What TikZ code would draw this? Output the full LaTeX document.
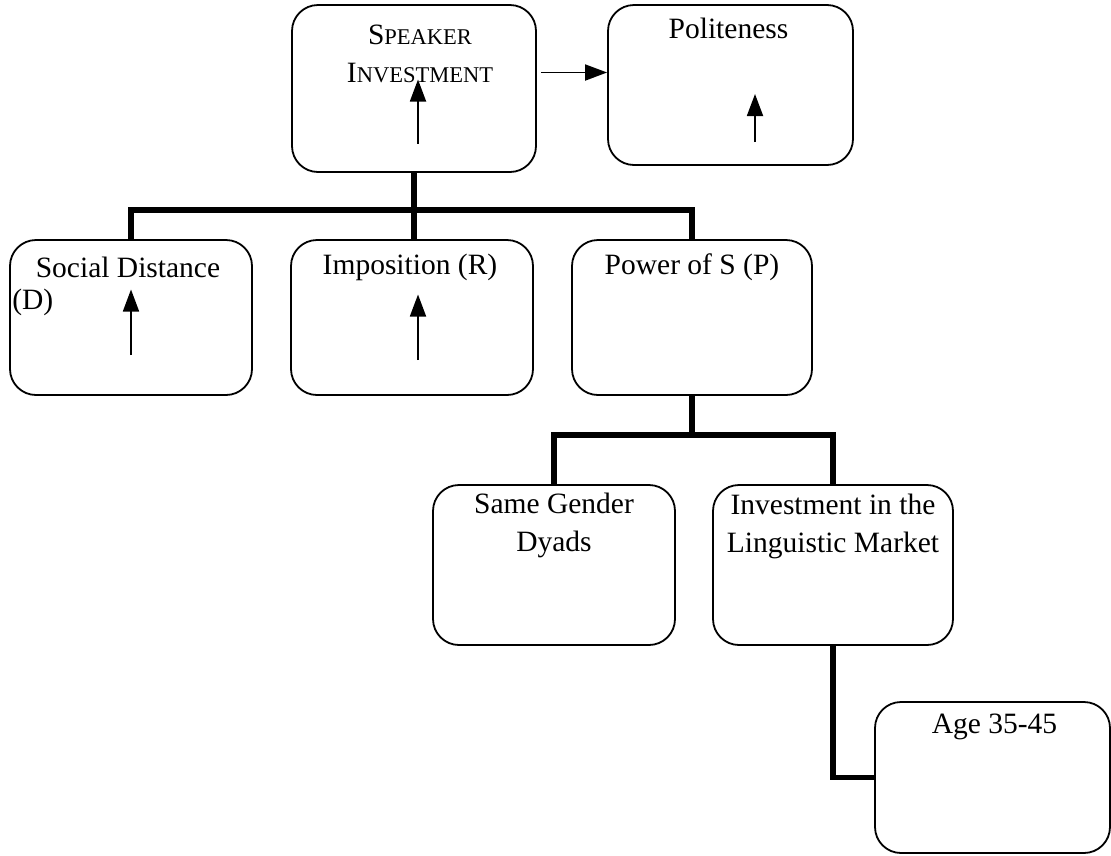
\documentclass[tikz,border=0pt]{standalone}
\usepackage{fontspec}
\setmainfont{Liberation Serif}
\usetikzlibrary{arrows.meta,positioning}
\newcommand{\fakesc}[2]{#1{\fontsize{22.5}{22.5}\selectfont #2}}
\begin{document}
\begin{tikzpicture}[x=1pt, y=-1pt,
  box/.style = {draw, rounded corners=26pt, line width=1.8pt, minimum width=242pt, minimum height=155pt},
  lbl/.style = {inner sep=0pt, align=center, font=\fontsize{29.5}{38}\selectfont},
  bar/.style = {line width=5.5pt},
  arr/.style = {line width=1.8pt, -{Triangle[length=22pt, width=16pt]}}]
  \useasboundingbox (0,0) rectangle (1111,855);
  % boxes
  \node[box, minimum width=244pt, minimum height=167pt] (spk) at (414,88.5) {};
  \node[box, minimum width=245pt, minimum height=160pt] (pol) at (730.5,85) {};
  \node[box] (soc) at (131,317.5) {};
  \node[box] (imp) at (412,317.5) {};
  \node[box, minimum width=240pt] (pow) at (692,317.5) {};
  \node[box, minimum height=160pt] (sgd) at (554,565) {};
  \node[box, minimum width=240pt, minimum height=160pt] (inv) at (833,565) {};
  \node[box, minimum width=235pt, minimum height=151pt] (age) at (992.5,777.5) {};
  % texts
  \node[lbl] (spkt) at ([xshift=6pt, yshift=-50pt]spk.north) {\fakesc{S}{PEAKER}\\\fakesc{I}{NVESTMENT}};
  \node[lbl] (polt) at ([xshift=-2pt, yshift=-24pt]pol.north) {Politeness};
  \node[lbl] (soct) at ([xshift=-3pt, yshift=-28pt]soc.north) {Social Distance};
  \node[lbl, anchor=west] (socd) at ([xshift=3pt, yshift=-63pt]soc.north west) {(D)};
  \node[lbl] (impt) at ([xshift=-2pt, yshift=-28pt]imp.north) {Imposition (R)};
  \node[lbl] (powt) at ([yshift=-28pt]pow.north) {Power of S (P)};
  \node[lbl] (sgdt) at ([yshift=-41pt]sgd.north) {Same Gender\\Dyads};
  \node[lbl] (invt) at ([yshift=-42pt]inv.north) {Investment in the\\Linguistic Market};
  \node[lbl] (aget) at ([xshift=2pt, yshift=-26pt]age.north) {Age 35-45};
  % tree
  \coordinate (j1) at (414,210);
  \coordinate (j2) at (692,435);
  \draw[bar] (spk.south) -- (j1);
  \draw[bar] (soc.north) |- (j1) -| (pow.north);
  \draw[bar] (j1) -- (j1 |- imp.north);
  \draw[bar] (pow.south) -- (j2);
  \draw[bar] (sgd.north) |- (j2) -| (inv.north);
  \draw[bar] (inv.south) |- (age.west);
  % arrows
  \draw[arr] ([shift={(4,-16)}]spk.east) -- ([yshift=12.5pt]pol.west);
  \draw[arr] ([shift={(4,55)}]spk.center) -- ([shift={(4,-9)}]spk.center);
  \draw[arr] ([shift={(24.5,57)}]pol.center) -- ([shift={(24.5,9)}]pol.center);
  \draw[arr] ([yshift=-37.5pt]soc.center) -- ([yshift=28pt]soc.center);
  \draw[arr] ([shift={(6,42.5)}]imp.center) -- ([shift={(6,-23)}]imp.center);
\end{tikzpicture}
\end{document}
